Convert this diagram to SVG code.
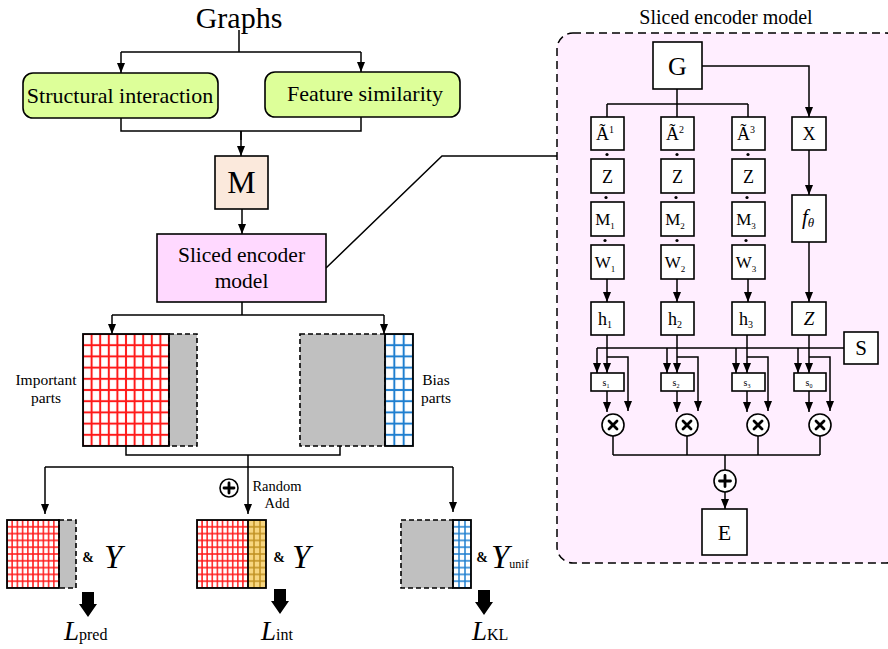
<svg xmlns="http://www.w3.org/2000/svg" width="888" height="649" viewBox="0 0 888 649" font-family="'Liberation Serif', 'DejaVu Serif', serif">
<style>
text{font-family:'Liberation Serif','DejaVu Serif',serif;fill:#000}
.ln{fill:none;stroke:#000;stroke-width:1.5}
.ar{fill:none;stroke:#000;stroke-width:1.5;marker-end:url(#ah)}
.bx{fill:#fff;stroke:#000;stroke-width:1.6}
.gray{fill:#c0c0c0;stroke:#000;stroke-width:1.6;stroke-dasharray:5 3}
.brd{fill:none;stroke:#000;stroke-width:1.8}
.c{text-anchor:middle}
.op{fill:#fff;stroke:#000;stroke-width:1.6}
.opx{stroke:#000;stroke-width:2.8;stroke-linecap:round}
</style>
<defs>
<marker id="ah" markerUnits="userSpaceOnUse" markerWidth="10" markerHeight="10" viewBox="0 0 10 10" refX="10" refY="5" orient="auto"><path d="M0,1 L10,5 L0,9 Z" fill="#000"/></marker>
<pattern id="gR" patternUnits="userSpaceOnUse" x="83" y="334" width="8.6" height="11.2"><rect width="8.6" height="11.2" fill="#ff1a1a"/><rect x="1" y="1" width="6.6" height="9.2" fill="#fff"/></pattern>
<pattern id="gB" patternUnits="userSpaceOnUse" x="385" y="334" width="9.33" height="11.2"><rect width="9.33" height="11.2" fill="#1f7fd0"/><rect x="1" y="1" width="7.33" height="9.2" fill="#fff"/></pattern>
<pattern id="gR1" patternUnits="userSpaceOnUse" x="7" y="520" width="5.2" height="6.8"><rect width="5.2" height="6.8" fill="#ff1a1a"/><rect x="0.75" y="0.75" width="3.7" height="5.3" fill="#fff"/></pattern>
<pattern id="gR2" patternUnits="userSpaceOnUse" x="197" y="520" width="5.1" height="6.8"><rect width="5.1" height="6.8" fill="#ff1a1a"/><rect x="0.75" y="0.75" width="3.6" height="5.3" fill="#fff"/></pattern>
<pattern id="gG" patternUnits="userSpaceOnUse" x="248" y="520" width="6" height="6.8"><rect width="6" height="6.8" fill="#c09020"/><rect x="0.75" y="0.75" width="4.5" height="5.3" fill="#f7d680"/></pattern>
<pattern id="gB2" patternUnits="userSpaceOnUse" x="453" y="520" width="6" height="6.8"><rect width="6" height="6.8" fill="#1f7fd0"/><rect x="0.75" y="0.75" width="4.5" height="5.3" fill="#fff"/></pattern>
</defs>

<g id="panel">
<rect x="557" y="33" width="345" height="530" rx="16" fill="#ffeeff" stroke="#000" stroke-width="1.5" stroke-dasharray="8 5"/>
<text x="726" y="24" class="c" font-size="20">Sliced encoder model</text>
</g>

<g id="connectors">
<path class="ln" d="M239,30 V52 M121,52 H361"/>
<path class="ar" d="M121,52 V73"/>
<path class="ar" d="M361,52 V72"/>
<path class="ln" d="M121,118 V131 H361 V117 M241,131 V140"/>
<path class="ar" d="M241,131 V156"/>
<path class="ar" d="M242,209 V234"/>
<path class="ln" d="M326,268 L442,156 H557"/>
<path class="ln" d="M242,302 V315 M112,315 H384"/>
<path class="ar" d="M112,315 V334"/>
<path class="ar" d="M384,315 V334"/>
<path class="ln" d="M126,446 V455 H340 V446 M45,467 H453"/>
<path class="ar" d="M45,467 V514"/>
<path class="ar" d="M248,455 V514"/>
<path class="ar" d="M453,467 V512"/>
<path class="ln" d="M677,89 V104 M607,104 H748 M607,104 V117 M677,104 V117 M748,104 V117"/>
<path class="ar" d="M702,66 H809 V117"/>
<path class="ar" d="M809,150 V195"/>
<path class="ar" d="M809,242 V302"/>
<path class="ar" d="M607,279 V302"/>
<path class="ar" d="M677,279 V302"/>
<path class="ar" d="M748,279 V302"/>
<path class="ln" d="M844,348 H597"/>
<path class="ar" d="M597,348 V373"/><path class="ar" d="M607,335 V373"/><path class="ar" d="M607,357 H628 V411"/><path class="ar" d="M607,391 V412"/>
<path class="ar" d="M667,348 V373"/><path class="ar" d="M677,335 V373"/><path class="ar" d="M677,357 H698 V411"/><path class="ar" d="M677,391 V412"/>
<path class="ar" d="M736,348 V373"/><path class="ar" d="M747,335 V373"/><path class="ar" d="M747,357 H768 V411"/><path class="ar" d="M747,391 V412"/>
<path class="ar" d="M798,348 V373"/><path class="ar" d="M809,335 V373"/><path class="ar" d="M809,357 H830 V411"/><path class="ar" d="M809,391 V412"/>
<path class="ln" d="M613,436 V455 M687,436 V455 M758,436 V455 M820,436 V455 M613,455 H820 M725,455 V470"/>
<path class="ar" d="M725,492 V509"/>
</g>

<g id="graphs"><text x="239" y="28" class="c" font-size="30">Graphs</text></g>
<g id="structural"><rect x="23" y="73" width="195" height="45" rx="10" fill="#ddff99" stroke="#000" stroke-width="1.6"/><text x="120" y="103" class="c" font-size="22">Structural interaction</text></g>
<g id="feature"><rect x="265" y="72" width="195" height="45" rx="10" fill="#ddff99" stroke="#000" stroke-width="1.6"/><text x="365" y="101" class="c" font-size="22">Feature similarity</text></g>
<g id="m"><rect x="215" y="156" width="53" height="53" fill="#fbe9dc" stroke="#000" stroke-width="1.6"/><text x="241.5" y="193" class="c" font-size="32">M</text></g>
<g id="sliced"><rect x="157" y="234" width="169" height="68" fill="#ffd9ff" stroke="#000" stroke-width="1.6"/><text x="241.5" y="262" class="c" font-size="21.5">Sliced encoder</text><text x="241.5" y="288" class="c" font-size="21.5">model</text></g>

<g id="important">
<rect x="83" y="334" width="86" height="112" fill="url(#gR)"/>
<rect x="169" y="334" width="28" height="112" class="gray"/>
<rect x="83" y="334" width="86" height="112" class="brd"/>
<text x="46" y="385" class="c" font-size="15.5">Important</text>
<text x="46" y="403" class="c" font-size="15.5">parts</text>
</g>
<g id="bias">
<rect x="300" y="334" width="85" height="112" class="gray"/>
<rect x="385" y="334" width="28" height="112" fill="url(#gB)"/>
<rect x="385" y="334" width="28" height="112" class="brd"/>
<text x="436" y="385" class="c" font-size="15.5">Bias</text>
<text x="436" y="403" class="c" font-size="15.5">parts</text>
</g>

<g id="random-add">
<circle cx="229" cy="488" r="9" class="op"/><path class="opx" d="M229,483 V493 M224,488 H234"/>
<text x="277" y="491" class="c" font-size="14.5">Random</text>
<text x="277" y="508" class="c" font-size="14.5">Add</text>
</g>

<g id="out-pred">
<rect x="7" y="520" width="52" height="68" fill="url(#gR1)"/>
<rect x="59" y="520" width="17" height="68" class="gray"/>
<rect x="7" y="520" width="52" height="68" class="brd"/>
<text x="88" y="562" class="c" font-size="14" font-weight="bold">&amp;</text>
<text x="104" y="568" font-size="33" font-style="italic">Y</text>
<path d="M82,592 H94 V604 H97 L88,617 L79,604 H82 Z" fill="#000"/>
<text x="64" y="640" font-size="27" font-style="italic">L<tspan font-style="normal" font-size="16">pred</tspan></text>
</g>
<g id="out-int">
<rect x="197" y="520" width="51" height="68" fill="url(#gR2)"/>
<rect x="248" y="520" width="18" height="68" fill="url(#gG)"/>
<rect x="197" y="520" width="69" height="68" class="brd"/>
<path class="brd" d="M248,520 V588"/>
<text x="279" y="562" class="c" font-size="14" font-weight="bold">&amp;</text>
<text x="292" y="568" font-size="33" font-style="italic">Y</text>
<path d="M274,589 H286 V601 H289 L280,614 L271,601 H274 Z" fill="#000"/>
<text x="261" y="640" font-size="27" font-style="italic">L<tspan font-style="normal" font-size="16">int</tspan></text>
</g>
<g id="out-kl">
<rect x="401" y="520" width="52" height="68" class="gray"/>
<rect x="453" y="520" width="18" height="68" fill="url(#gB2)"/>
<rect x="453" y="520" width="18" height="68" class="brd"/>
<text x="482" y="562" class="c" font-size="14" font-weight="bold">&amp;</text>
<text x="491" y="568" font-size="33" font-style="italic">Y<tspan font-style="normal" font-size="12">unif</tspan></text>
<path d="M478,590 H490 V602 H493 L484,615 L475,602 H478 Z" fill="#000"/>
<text x="472" y="640" font-size="27" font-style="italic">L<tspan font-style="normal" font-size="16">KL</tspan></text>
</g>

<g id="G"><rect x="653" y="42" width="49" height="47" class="bx"/><text x="677.5" y="75" class="c" font-size="26">G</text></g>
<g id="A1"><rect x="591" y="117" width="33" height="33" class="bx"/><text x="605" y="140" class="c" font-size="18">Ã<tspan font-size="10" dy="-7">1</tspan></text></g>
<g id="A2"><rect x="661" y="117" width="33" height="33" class="bx"/><text x="675" y="140" class="c" font-size="18">Ã<tspan font-size="10" dy="-7">2</tspan></text></g>
<g id="A3"><rect x="732" y="117" width="33" height="33" class="bx"/><text x="746" y="140" class="c" font-size="18">Ã<tspan font-size="10" dy="-7">3</tspan></text></g>
<g id="X"><rect x="792" y="117" width="34" height="33" class="bx"/><text x="809" y="140" class="c" font-size="18">X</text></g>

<g id="dots" fill="#000">
<circle cx="607" cy="154.5" r="1.6"/><circle cx="677" cy="154.5" r="1.6"/><circle cx="748" cy="154.5" r="1.6"/>
<circle cx="606" cy="197.5" r="1.6"/><circle cx="676" cy="197.5" r="1.6"/><circle cx="747" cy="197.5" r="1.6"/>
<circle cx="605" cy="240.5" r="1.6"/><circle cx="677" cy="240.5" r="1.6"/><circle cx="746" cy="240.5" r="1.6"/>
</g>

<g id="Z1"><rect x="591" y="159" width="33" height="34" class="bx"/><text x="607.5" y="183" class="c" font-size="18">Z</text></g>
<g id="Z2"><rect x="661" y="159" width="33" height="34" class="bx"/><text x="677.5" y="183" class="c" font-size="18">Z</text></g>
<g id="Z3"><rect x="732" y="159" width="33" height="34" class="bx"/><text x="748.5" y="183" class="c" font-size="18">Z</text></g>
<g id="M1"><rect x="591" y="202" width="33" height="34" class="bx"/><text x="605" y="225" class="c" font-size="17">M<tspan font-size="9" dy="4">1</tspan></text></g>
<g id="M2"><rect x="661" y="202" width="33" height="34" class="bx"/><text x="675" y="225" class="c" font-size="17">M<tspan font-size="9" dy="4">2</tspan></text></g>
<g id="M3"><rect x="732" y="202" width="33" height="34" class="bx"/><text x="746" y="225" class="c" font-size="17">M<tspan font-size="9" dy="4">3</tspan></text></g>
<g id="W1"><rect x="591" y="245" width="33" height="34" class="bx"/><text x="605" y="268" class="c" font-size="17">W<tspan font-size="9" dy="4">1</tspan></text></g>
<g id="W2"><rect x="661" y="245" width="33" height="34" class="bx"/><text x="675" y="268" class="c" font-size="17">W<tspan font-size="9" dy="4">2</tspan></text></g>
<g id="W3"><rect x="732" y="245" width="33" height="34" class="bx"/><text x="746" y="268" class="c" font-size="17">W<tspan font-size="9" dy="4">3</tspan></text></g>
<g id="ftheta"><rect x="792" y="195" width="34" height="47" class="bx"/><text x="808" y="224" class="c" font-size="21" font-style="italic">f<tspan font-size="13" dy="3">θ</tspan></text></g>

<g id="h1"><rect x="591" y="302" width="33" height="33" class="bx"/><text x="605" y="325" class="c" font-size="18">h<tspan font-size="10" dy="3">1</tspan></text></g>
<g id="h2"><rect x="661" y="302" width="33" height="33" class="bx"/><text x="675" y="325" class="c" font-size="18">h<tspan font-size="10" dy="3">2</tspan></text></g>
<g id="h3"><rect x="732" y="302" width="33" height="33" class="bx"/><text x="746" y="325" class="c" font-size="18">h<tspan font-size="10" dy="3">3</tspan></text></g>
<g id="Z4"><rect x="792" y="302" width="34" height="33" class="bx"/><text x="809" y="325" class="c" font-size="19" font-style="italic">Z</text></g>
<g id="S"><rect x="844" y="332" width="34" height="32" class="bx"/><text x="861" y="355" class="c" font-size="21">S</text></g>

<g id="s1"><rect x="591" y="373" width="33" height="18" class="bx"/><text x="606" y="386" class="c" font-size="10">s<tspan font-size="6" dy="2">1</tspan></text></g>
<g id="s2"><rect x="661" y="373" width="33" height="18" class="bx"/><text x="676" y="386" class="c" font-size="10">s<tspan font-size="6" dy="2">2</tspan></text></g>
<g id="s3"><rect x="732" y="373" width="33" height="18" class="bx"/><text x="747" y="386" class="c" font-size="10">s<tspan font-size="6" dy="2">3</tspan></text></g>
<g id="s0"><rect x="794" y="373" width="32" height="18" class="bx"/><text x="809" y="386" class="c" font-size="10">s<tspan font-size="6" dy="2">0</tspan></text></g>

<g id="mul1"><circle cx="613" cy="425" r="11" class="op"/><path class="opx" d="M609,421 L617,429 M617,421 L609,429"/></g>
<g id="mul2"><circle cx="687" cy="425" r="11" class="op"/><path class="opx" d="M683,421 L691,429 M691,421 L683,429"/></g>
<g id="mul3"><circle cx="758" cy="425" r="11" class="op"/><path class="opx" d="M754,421 L762,429 M762,421 L754,429"/></g>
<g id="mul4"><circle cx="820" cy="425" r="11" class="op"/><path class="opx" d="M816,421 L824,429 M824,421 L816,429"/></g>
<g id="add"><circle cx="725" cy="481" r="11" class="op"/><path class="opx" d="M725,475.5 V486.5 M719.5,481 H730.5"/></g>
<g id="E"><rect x="702" y="509" width="45" height="46" class="bx"/><text x="724.5" y="540" class="c" font-size="22">E</text></g>
</svg>
